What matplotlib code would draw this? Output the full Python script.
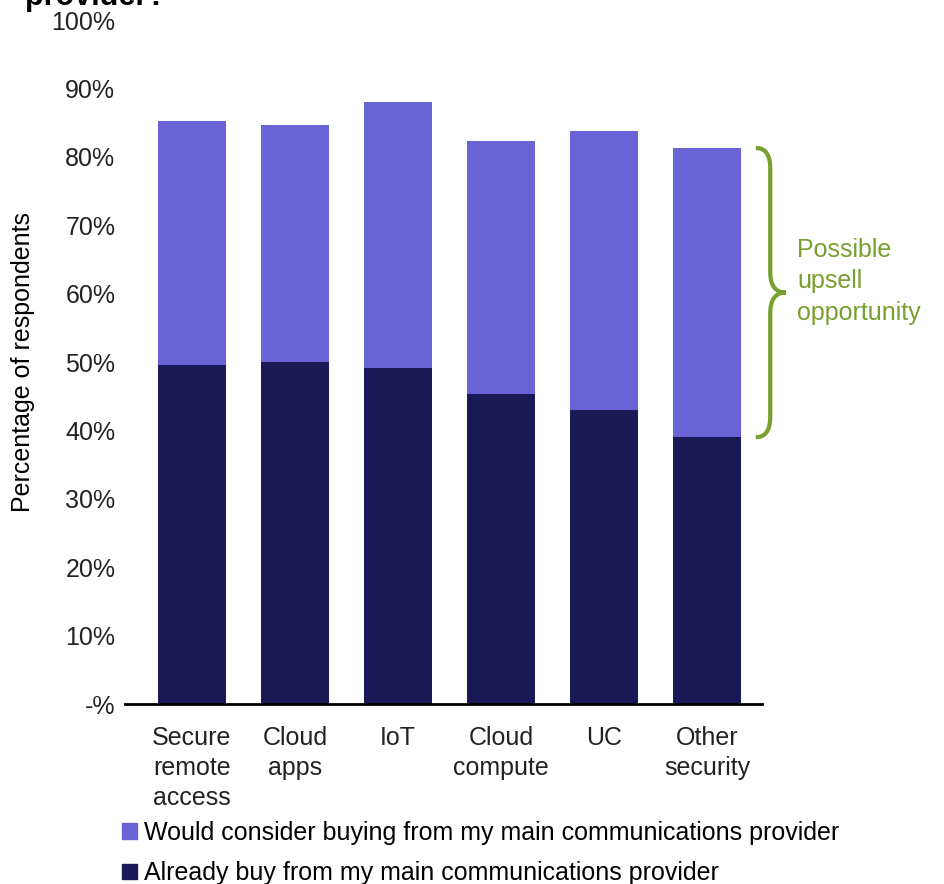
import matplotlib
matplotlib.use("Agg")
import matplotlib.pyplot as plt
from matplotlib.path import Path
from matplotlib.patches import PathPatch, Patch

categories = ["Secure\nremote\naccess", "Cloud\napps", "IoT", "Cloud\ncompute", "UC", "Other\nsecurity"]
already_buy = [49.6, 50.0, 49.1, 45.3, 43.0, 39.0]
total_share = [85.2, 84.6, 88.0, 82.3, 83.8, 81.3]
would_consider = [t - a for t, a in zip(total_share, already_buy)]
ytick_vals = [0, 10, 20, 30, 40, 50, 60, 70, 80, 90, 100]
ytick_labels = ["-%"] + [f"{v}%" for v in ytick_vals[1:]]

dark = "#1b1856"
light = "#6a63d6"
green = "#77a02e"

plt.rcParams["font.family"] = ["Liberation Sans", "DejaVu Sans"]

fig = plt.figure(figsize=(9.44, 8.84), dpi=100)
ax = fig.add_axes([125 / 944, 1 - 704 / 884, (762 - 125) / 944, (704 - 20) / 884])

x = range(len(categories))
ax.bar(x, already_buy, width=0.66, color=dark, label="Already buy from my main communications provider")
ax.bar(x, would_consider, width=0.66, bottom=already_buy, color=light,
       label="Would consider buying from my main communications provider")

ax.set_xlim(-0.65, 5.53)
ax.set_ylim(0, 100)
ax.set_yticks(ytick_vals)
ax.set_yticklabels(ytick_labels, fontsize=18, color="#222222")
ax.set_xticks(list(x))
ax.set_xticklabels(categories, fontsize=18, color="#222222", linespacing=1.3)
ax.tick_params(length=0)
ax.tick_params(axis="x", pad=16)
ax.tick_params(axis="y", pad=7)
for s in ["top", "right", "left"]:
    ax.spines[s].set_visible(False)
ax.spines["bottom"].set_linewidth(2)
ax.set_ylabel("Percentage of respondents", fontsize=18, labelpad=12)

# curly brace showing the gap on the last bar
ytop, ybot = total_share[-1], already_buy[-1]
ymid = (ytop + ybot) / 2
x0, x1, x2 = 5.47, 5.61, 5.76
d = 3.0
verts = [(x0, ytop), (x1, ytop), (x1, ytop - d), (x1, ymid + d),
         (x1, ymid), (x2, ymid), (x1, ymid), (x1, ymid - d),
         (x1, ybot + d), (x1, ybot), (x0, ybot)]
codes = [Path.MOVETO, Path.CURVE3, Path.CURVE3, Path.LINETO,
         Path.CURVE3, Path.CURVE3, Path.CURVE3, Path.CURVE3,
         Path.LINETO, Path.CURVE3, Path.CURVE3]
ax.add_patch(PathPatch(Path(verts, codes), facecolor="none", edgecolor=green,
                       linewidth=3, clip_on=False))
ax.text(5.87, 61.8, "Possible\nupsell\nopportunity", color=green, fontsize=18,
        va="center", ha="left", linespacing=1.38, clip_on=False)

handles = [Patch(color=light), Patch(color=dark)]
labels = ["Would consider buying from my main communications provider",
          "Already buy from my main communications provider"]
fig.legend(handles, labels, loc="upper left", bbox_to_anchor=(112 / 944, 1 - 811 / 884),
           frameon=False, fontsize=18, handlelength=0.6, handleheight=0.6,
           handletextpad=0.3, labelspacing=0.65, borderaxespad=0)

fig.text(25 / 944, 1 - 5 / 884, "provider?", fontsize=22, fontweight="bold", va="baseline")

fig.savefig("out.png", dpi=100)
